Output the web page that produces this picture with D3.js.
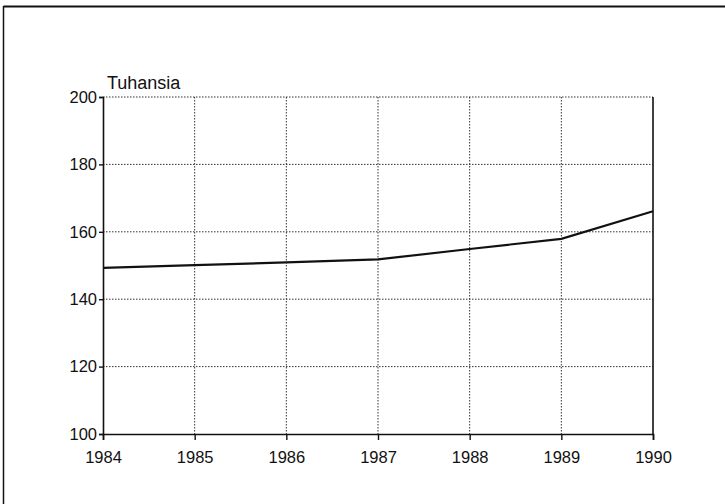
<!DOCTYPE html>
<html><head><meta charset="utf-8">
<script src="https://cdn.jsdelivr.net/npm/d3@7"></script>
<style>body{margin:0;background:#fff}svg{display:block}text{font-family:"Liberation Sans",Arial,sans-serif;fill:#111}</style>
</head><body><svg id="c" width="725" height="504"></svg>
<script>
const years = [1984, 1985, 1986, 1987, 1988, 1989, 1990];
const values = [149.3, 150.1, 150.9, 151.8, 154.9, 157.9, 166.1];
const yTicks = [100, 120, 140, 160, 180, 200];
const yTitle = "Tuhansia";

const svg = d3.select("#c");
const m = {l: 103, r: 72, t: 97, b: 70};
const W = 725, H = 504;
const x = d3.scaleLinear().domain([1984, 1990]).range([m.l, W - m.r]);
const y = d3.scaleLinear().domain([100, 200]).range([H - m.b, m.t]);

// outer frame (top and left)
svg.append("line").attr("x1", 3.5).attr("x2", W).attr("y1", 6.5).attr("y2", 6.5).attr("stroke", "#111").attr("stroke-width", 2);
svg.append("line").attr("x1", 3.5).attr("x2", 3.5).attr("y1", 6).attr("y2", H).attr("stroke", "#111").attr("stroke-width", 1.5);

// gridlines
const g = svg.append("g");
g.selectAll(".hg").data(yTicks.filter(d => d > 100)).join("line")
  .attr("x1", x(1984)).attr("x2", x(1990)).attr("y1", d => y(d)).attr("y2", d => y(d))
  .attr("stroke", "#333").attr("stroke-width", 1).attr("stroke-dasharray", "1.5,1.5");
g.selectAll(".vg").data(years.slice(1, -1)).join("line")
  .attr("x1", d => x(d)).attr("x2", d => x(d)).attr("y1", y(200)).attr("y2", y(100))
  .attr("stroke", "#333").attr("stroke-width", 1).attr("stroke-dasharray", "1.5,1.5");

// axes
const xAxis = d3.axisBottom(x).tickValues(years).tickFormat(d3.format("d")).tickSize(6).tickPadding(11);
const yAxis = d3.axisLeft(y).tickValues(yTicks).tickSize(4).tickPadding(2);
const gx = svg.append("g").attr("transform", `translate(0,${y(100)})`).call(xAxis);
const gy = svg.append("g").attr("transform", `translate(${x(1984)},0)`).call(yAxis);
[gx, gy].forEach(a => {
  a.select(".domain").attr("stroke", "#111").attr("stroke-width", 1.6);
  a.selectAll(".tick line").attr("stroke", "#111").attr("stroke-width", 1.4);
  a.selectAll(".tick text").style("font-size", "16.5px").attr("fill", "#111");
});
// right border at 1990
svg.append("line").attr("x1", x(1990)).attr("x2", x(1990)).attr("y1", y(200)).attr("y2", y(100))
  .attr("stroke", "#111").attr("stroke-width", 1.6);

// y title
svg.append("text").attr("x", x(1984) + 4).attr("y", y(200) - 8).style("font-size", "18px").text(yTitle);

// line
const line = d3.line().x((d, i) => x(years[i])).y(d => y(d));
svg.append("path").datum(values).attr("d", line).attr("fill", "none").attr("stroke", "#111").attr("stroke-width", 2.2);
</script></body></html>
